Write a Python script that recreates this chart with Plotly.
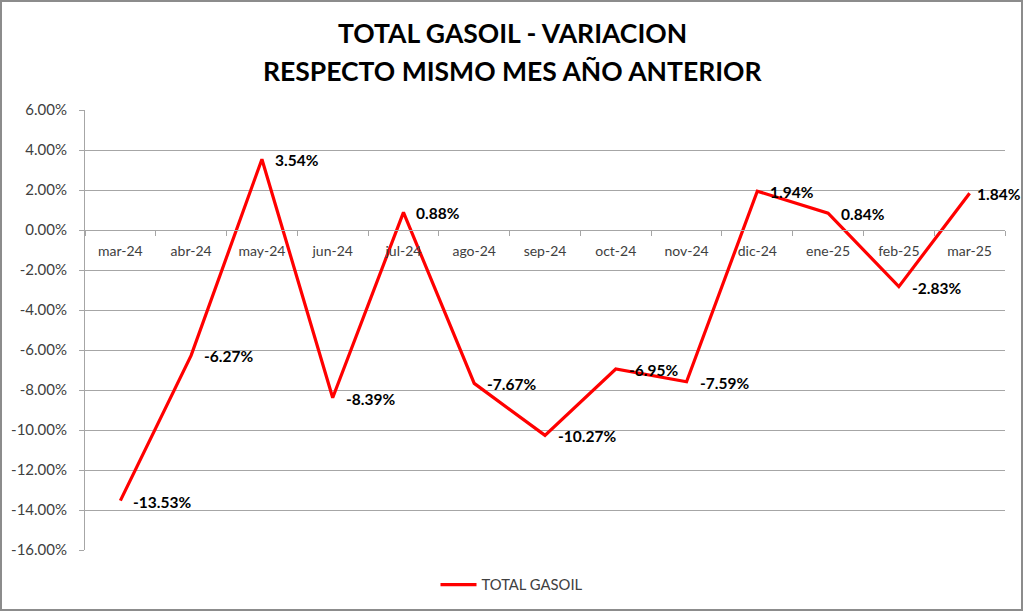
import plotly.graph_objects as go

months = ["mar-24", "abr-24", "may-24", "jun-24", "jul-24", "ago-24", "sep-24",
          "oct-24", "nov-24", "dic-24", "ene-25", "feb-25", "mar-25"]
variacion = [-13.53, -6.27, 3.54, -8.39, 0.88, -7.67, -10.27,
             -6.95, -7.59, 1.94, 0.84, -2.83, 1.84]
y_ticks = [-16, -14, -12, -10, -8, -6, -4, -2, 0, 2, 4, 6]
y_ticktext = [f"{v:.2f}%" for v in y_ticks]
series_name = "TOTAL GASOIL"
title_lines = ["TOTAL GASOIL - VARIACION", "RESPECTO MISMO MES AÑO ANTERIOR"]

W, H = 1024, 612
ML, MR, MT, MB = 85, 19, 110, 62
Y_MIN, Y_MAX = -16, 6
pw, ph = W - ML - MR, H - MT - MB

FONT = "Lato"
GRID = "#a6a6a6"
TXT = "#404040"

fig = go.Figure()
fig.add_trace(go.Scatter(
    x=months, y=variacion, mode="lines", name=series_name,
    line=dict(color="#ff0000", width=3.2),
))

for i, (m, v) in enumerate(zip(months, variacion)):
    last = i == len(months) - 1
    fig.add_annotation(
        x=m, y=v, text=f"{v:.2f}%", showarrow=False,
        xanchor="left", yanchor="middle", xshift=5 if last else 11, yshift=-1,
        font=dict(family=FONT, size=15.5, color="#000000", weight="bold"),
    )

# title lines (two separately placed lines)
for line, ypix in zip(title_lines, [33, 71]):
    fig.add_annotation(
        text=line, showarrow=False, xref="paper", yref="paper",
        x=(W / 2 - ML) / pw, y=1 + (MT - ypix) / ph,
        xanchor="center", yanchor="middle",
        font=dict(family=FONT, size=26.5, color="#000000", weight="bold"),
    )

# outer frame
fig.add_shape(
    type="rect", xref="paper", yref="paper",
    x0=-(ML - 1) / pw, x1=1 + (MR - 2) / pw,
    y0=-(MB - 2) / ph, y1=1 + (MT - 1) / ph,
    line=dict(color="#8c8c8c", width=2), fillcolor="rgba(0,0,0,0)",
    layer="below",
)

fig.update_layout(
    width=W, height=H,
    margin=dict(l=ML, r=MR, t=MT, b=MB, autoexpand=False),
    paper_bgcolor="white", plot_bgcolor="white",
    font=dict(family=FONT, size=14, color=TXT),
    showlegend=True,
    legend=dict(
        orientation="h", x=(W / 2 - ML) / pw, xanchor="center",
        y=-(MB - 27) / ph, yanchor="middle",
        font=dict(family=FONT, size=14.8, color=TXT),
        itemwidth=36,
    ),
    xaxis=dict(
        type="category", tickson="boundaries", ticks="outside", ticklen=5,
        tickcolor=GRID, showgrid=False, showline=True, linecolor=GRID,
        linewidth=1, anchor="free", automargin=False,
        position=(0 - Y_MIN) / (Y_MAX - Y_MIN),
        tickfont=dict(family=FONT, size=14, color=TXT),
        ticklabelstandoff=8,
        range=[-0.5, len(months) - 0.5], fixedrange=True,
    ),
    yaxis=dict(
        range=[Y_MIN, Y_MAX], tickvals=y_ticks, ticktext=y_ticktext,
        ticks="outside", ticklen=5, tickcolor=GRID, automargin=False,
        showgrid=True, gridcolor=GRID, gridwidth=1,
        zeroline=False, showline=True, linecolor=GRID, linewidth=1,
        tickfont=dict(family=FONT, size=15, color=TXT),
        ticklabelstandoff=9, fixedrange=True,
    ),
)

fig.write_html(
    "out.html",
    config={"displayModeBar": False},
    post_script="document.body.style.margin='0';document.body.style.overflow='hidden';",
)
